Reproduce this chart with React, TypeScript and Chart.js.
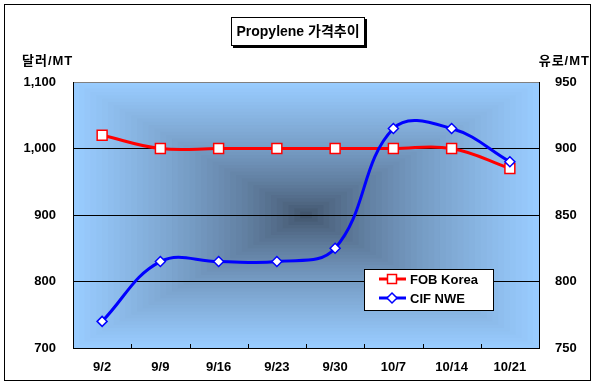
import React, { useEffect, useRef } from "react";
import { Chart, registerables } from "chart.js";

Chart.register(...registerables);

const categories = ["9/2", "9/9", "9/16", "9/23", "9/30", "10/7", "10/14", "10/21"];
const fobKorea = [1020, 1000, 1000, 1000, 1000, 1000, 1000, 970];
const cifNwe = [770, 815, 815, 815, 825, 915, 915, 890];
const leftAxis = { min: 700, max: 1100, step: 100 };
const rightAxis = { min: 750, max: 950, step: 50 };
const titleText = "Propylene 가격추이";
const leftUnit = "달러/MT";
const rightUnit = "유로/MT";
const seriesNames = ["FOB Korea", "CIF NWE"];

const FONT = "'Liberation Sans', Arial, 'Noto Sans CJK KR', sans-serif";

const bgPlugin = {
  id: "bgPlugin",
  beforeDraw(chart: any) {
    const ctx = chart.ctx;
    const { left, top, right, bottom } = chart.chartArea;
    ctx.save();
    ctx.fillStyle = "#ffffff";
    ctx.fillRect(0, 0, chart.width, chart.height);
    const cx = (left + right) / 2;
    const cy = (top + bottom) / 2;
    const hw = (right - left) / 2;
    const hh = (bottom - top) / 2;
    const edge = [153, 204, 255];
    const center = [60, 76, 98];
    const N = 40;
    for (let k = 0; k < N; k++) {
      const t = 1 - k / N;
      const m = Math.pow(t, 0.7);
      const c = center.map((v, i) => Math.round(v + (edge[i] - v) * m));
      ctx.fillStyle = `rgb(${c[0]},${c[1]},${c[2]})`;
      ctx.fillRect(cx - hw * t, cy - hh * t, 2 * hw * t, 2 * hh * t);
    }
    ctx.restore();
  },
  afterDraw(chart: any) {
    const ctx = chart.ctx;
    const { left, right, bottom } = chart.chartArea;
    ctx.save();
    ctx.strokeStyle = "#000";
    ctx.lineWidth = 1;
    ctx.strokeRect(4.5, 4.5, 586, 376);
    const n = categories.length;
    const w = (right - left) / n;
    ctx.beginPath();
    for (let i = 1; i < n; i++) {
      const x = Math.round(left + i * w) + 0.5;
      ctx.moveTo(x, bottom - 4);
      ctx.lineTo(x, bottom);
    }
    ctx.stroke();

    // title box
    ctx.fillStyle = "#000";
    ctx.fillRect(233, 19, 134, 29);
    ctx.fillStyle = "#fff";
    ctx.fillRect(231, 17, 134, 29);
    ctx.strokeRect(231.5, 17.5, 133, 28);
    ctx.fillStyle = "#000";
    ctx.font = `bold 14px ${FONT}`;
    ctx.textAlign = "center";
    ctx.textBaseline = "middle";
    ctx.fillText(titleText, 298, 32);

    (ctx as any).letterSpacing = "1px";
    ctx.font = `bold 13px ${FONT}`;
    ctx.textAlign = "left";
    ctx.fillText(leftUnit, 22, 61);
    ctx.textAlign = "right";
    ctx.fillText(rightUnit, 590, 61);
    (ctx as any).letterSpacing = "0px";

    // legend
    ctx.fillStyle = "#fff";
    ctx.fillRect(364, 269, 129, 41);
    ctx.strokeStyle = "#000";
    ctx.strokeRect(364.5, 269.5, 129, 41);
    const rows = [
      { y: 279, color: "#ff0000", text: seriesNames[0], marker: "rect" },
      { y: 298, color: "#0000ff", text: seriesNames[1], marker: "diamond" },
    ];
    rows.forEach((r) => {
      ctx.strokeStyle = r.color;
      ctx.lineWidth = 3;
      ctx.beginPath();
      ctx.moveTo(379, r.y);
      ctx.lineTo(406, r.y);
      ctx.stroke();
      ctx.fillStyle = "#fff";
      ctx.lineWidth = 1.5;
      ctx.beginPath();
      if (r.marker === "rect") {
        ctx.rect(387.5, r.y - 4.5, 9, 9);
      } else {
        ctx.moveTo(392, r.y - 5);
        ctx.lineTo(397, r.y);
        ctx.lineTo(392, r.y + 5);
        ctx.lineTo(387, r.y);
        ctx.closePath();
      }
      ctx.fill();
      ctx.stroke();
      ctx.fillStyle = "#000";
      ctx.font = `bold 13px ${FONT}`;
      ctx.textAlign = "left";
      ctx.textBaseline = "middle";
      ctx.fillText(r.text, 410, r.y + 1);
    });
    ctx.restore();
  },
};

export default function App() {
  const ref = useRef<HTMLCanvasElement | null>(null);
  useEffect(() => {
    document.body.style.margin = "0";
    if (!ref.current) return;
    const tickFont = { family: FONT, size: 13, weight: "bold" };
    const chart = new Chart(ref.current, {
      type: "line",
      data: {
        labels: categories,
        datasets: [
          {
            label: seriesNames[0],
            data: fobKorea,
            yAxisID: "y",
            borderColor: "#ff0000",
            borderWidth: 3,
            backgroundColor: "#ffffff",
            pointStyle: "rect",
            pointRadius: 7,
            pointBorderColor: "#ff0000",
            pointBackgroundColor: "#ffffff",
            pointBorderWidth: 1.5,
            tension: 0.4,
            order: 2,
          },
          {
            label: seriesNames[1],
            data: cifNwe,
            yAxisID: "y1",
            borderColor: "#0000ff",
            borderWidth: 3,
            backgroundColor: "#ffffff",
            pointStyle: "rectRot",
            pointRadius: 5,
            pointBorderColor: "#0000ff",
            pointBackgroundColor: "#ffffff",
            pointBorderWidth: 1.5,
            tension: 0.4,
            order: 1,
          },
        ],
      },
      options: {
        responsive: false,
        animation: false,
        devicePixelRatio: 1,
        layout: { padding: { top: 82, left: 0, right: 0, bottom: 0 } },
        plugins: { legend: { display: false }, tooltip: { enabled: false }, title: { display: false } },
        scales: {
          x: {
            type: "category",
            offset: true,
            grid: { display: false, drawTicks: false },
            border: { display: true, color: "#000", width: 1 },
            ticks: { color: "#000", font: tickFont, padding: 12, maxRotation: 0 },
            afterFit(scale: any) {
              scale.height = 41;
            },
          },
          y: {
            position: "left",
            min: leftAxis.min,
            max: leftAxis.max,
            grid: {
              drawTicks: false,
              color: (c: any) => (c.tick && c.tick.value === leftAxis.max ? "#808080" : "#000"),
              lineWidth: 1,
            },
            border: { display: true, color: "#000", width: 1 },
            ticks: {
              stepSize: leftAxis.step,
              color: "#000",
              padding: 17,
              font: tickFont,
              callback: (v: any) => Number(v).toLocaleString("en-US"),
            },
            afterFit(scale: any) {
              scale.width = 73;
            },
          },
          y1: {
            position: "right",
            min: rightAxis.min,
            max: rightAxis.max,
            grid: { display: false, drawTicks: false },
            border: { display: true, color: "#000", width: 1 },
            ticks: {
              stepSize: rightAxis.step,
              color: "#000",
              padding: 16,
              font: tickFont,
            },
            afterFit(scale: any) {
              scale.width = 58;
            },
          },
        },
      },
      plugins: [bgPlugin],
    } as any);
    return () => chart.destroy();
  }, []);
  return (
    <div style={{ position: "absolute", left: 0, top: 0, width: 597, height: 389 }}>
      <canvas ref={ref} width={597} height={389} />
    </div>
  );
}
